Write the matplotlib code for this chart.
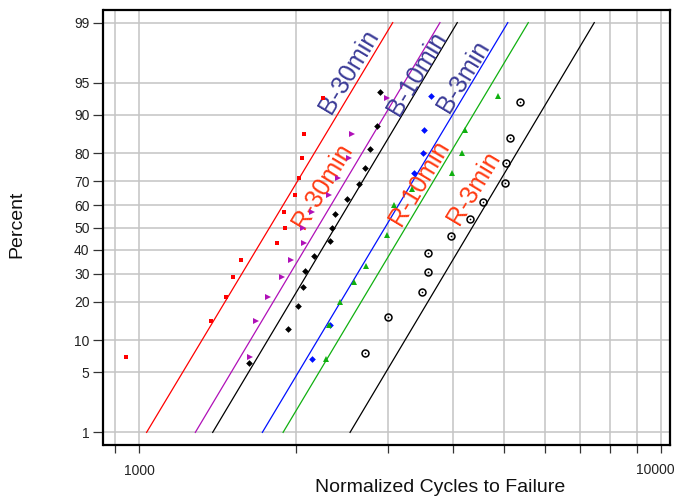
import math
from statistics import NormalDist

import numpy as np
import matplotlib
matplotlib.use("Agg")
import matplotlib.pyplot as plt
from matplotlib.ticker import FixedLocator, NullFormatter, FixedFormatter

plt.rcParams["font.family"] = ["Liberation Sans", "DejaVu Sans"]

# ---- data: normalized cycles to failure and plotting positions (percent) ----
b30_cycles = [945, 1372, 1468, 1516, 1570, 1840, 1901, 1898, 1990, 2023, 2055, 2073, 2255]
b30_pct = [7.1, 14.3, 21.4, 28.6, 35.7, 42.9, 50.0, 57.1, 64.3, 71.4, 78.6, 85.7, 92.9]

r30_cycles = [1634, 1673, 1764, 1876, 1955, 2068, 2059, 2145, 2307, 2403, 2522, 2562, 2982]
r30_pct = [7.1, 14.3, 21.4, 28.6, 35.7, 42.9, 50.0, 57.1, 64.3, 71.4, 78.6, 85.7, 92.9]

b10_cycles = [1621, 1932, 2014, 2064, 2077, 2166, 2327, 2346, 2374, 2503, 2641, 2710,
              2776, 2860, 2895]
b10_pct = [6.25, 12.5, 18.75, 25.0, 31.25, 37.5, 43.75, 50.0, 56.25, 62.5, 68.75, 75.0,
           81.25, 87.5, 93.75]

b3_cycles = [2148, 2322, 3367, 3493, 3511, 3621]
b3_pct = [6.7, 13.3, 73.3, 80.0, 86.7, 93.3]

r10_cycles = [2279, 2307, 2427, 2582, 2725, 2982, 3075, 3339, 3978, 4157, 4218, 4866]
r10_pct = [6.7, 13.3, 20.0, 26.7, 33.3, 46.7, 60.0, 66.7, 73.3, 80.0, 86.7, 93.3]

r3_cycles = [2706, 3003, 3490, 3578, 3585, 3960, 4312, 4554, 5018, 5047, 5137, 5362]
r3_pct = [7.7, 15.4, 23.1, 30.8, 38.5, 46.2, 53.8, 61.5, 69.2, 76.9, 84.6, 92.3]

# fitted lognormal lines: cycles at the 1 % and 99 % points
fit_pct = [1, 99]
b30_fit = [1034, 3062]
r30_fit = [1282, 3772]
b10_fit = [1384, 4071]
b3_fit = [1723, 5087]
r10_fit = [1888, 5569]
r3_fit = [2537, 7450]

y_ticks = [1, 5, 10, 20, 30, 40, 50, 60, 70, 80, 90, 95, 99]
x_major = [1000, 10000]
x_minor = [900, 2000, 3000, 4000, 5000, 6000, 7000, 8000, 9000]

# series labels: text, cycles, percent, colour
labels = [
    ("B-30min", 2526, 96.2, "#3b3b97"),
    ("B-10min", 3409, 96.0, "#3b3b97"),
    ("B-3min", 4176, 95.7, "#3b3b97"),
    ("R-30min", 2247, 68.1, "#ff3a12"),
    ("R-10min", 3439, 69.3, "#ff3a12"),
    ("R-3min", 4377, 67.5, "#ff3a12"),
]

# ---- normal-probability scale for the percent axis ----
_nd = NormalDist()
_ppf = np.vectorize(_nd.inv_cdf, otypes=[float])
_erf = np.vectorize(math.erf, otypes=[float])


def pct_forward(p):
    p = np.clip(np.asarray(p, dtype=float) / 100.0, 1e-9, 1 - 1e-9)
    return _ppf(p)


def pct_inverse(z):
    z = np.asarray(z, dtype=float)
    return 100.0 * 0.5 * (1.0 + _erf(z / math.sqrt(2.0)))


fig = plt.figure(figsize=(6.78, 4.98), dpi=100)
ax = fig.add_axes([103.5 / 678, 1 - 445 / 498, (670 - 103.5) / 678, (445 - 10) / 498])
ax.set_xscale("log")
ax.set_yscale("function", functions=(pct_forward, pct_inverse))
ax.set_xlim(855, 10405)
ax.set_ylim(0.676, 99.324)

# fitted lines
line_kw = dict(lw=0.9, zorder=2)
ax.plot(b30_fit, fit_pct, color="#ff0000", **line_kw)
ax.plot(r30_fit, fit_pct, color="#b010b8", **line_kw)
ax.plot(b10_fit, fit_pct, color="#000000", **line_kw)
ax.plot(b3_fit, fit_pct, color="#0010ff", **line_kw)
ax.plot(r10_fit, fit_pct, color="#10b010", **line_kw)
ax.plot(r3_fit, fit_pct, color="#000000", **line_kw)

# data points
ax.plot(b30_cycles, b30_pct, ls="none", marker="s", ms=3.2, color="#ff0000", mew=0, zorder=4)
ax.plot(r30_cycles, r30_pct, ls="none", marker=">", ms=4.4, color="#b010b8", mew=0, zorder=4)
ax.plot(b10_cycles, b10_pct, ls="none", marker="D", ms=3.4, color="#000000", mew=0, zorder=4)
ax.plot(b3_cycles, b3_pct, ls="none", marker="D", ms=3.4, color="#0010ff", mew=0, zorder=4)
ax.plot(r10_cycles, r10_pct, ls="none", marker="^", ms=4.4, color="#10b010", mew=0, zorder=4)
ax.plot(r3_cycles, r3_pct, ls="none", marker="o", ms=5, mfc="none", mec="#000000",
        mew=1.1, zorder=4)
ax.plot(r3_cycles, r3_pct, ls="none", marker="o", ms=1.2, color="#000000", mew=0, zorder=4)

# series names along the lines
for text, cx, cy, col in labels:
    ax.text(cx, cy, text, color=col, fontsize=18, rotation=59,
            ha="center", va="center", zorder=3)

# axes styling
ax.yaxis.set_major_locator(FixedLocator(y_ticks))
ax.yaxis.set_major_formatter(FixedFormatter([str(v) for v in y_ticks]))
ax.yaxis.set_minor_locator(FixedLocator([]))
ax.xaxis.set_major_locator(FixedLocator(x_major))
# the right-hand decade label is drawn separately so it stays inside the figure
ax.xaxis.set_major_formatter(FixedFormatter([str(x_major[0]), ""]))
ax.xaxis.set_minor_locator(FixedLocator(x_minor))
ax.xaxis.set_minor_formatter(NullFormatter())
ax.annotate(str(x_major[1]), xy=(x_major[1], 0), xycoords=("data", "axes fraction"),
            xytext=(-4, -18), textcoords="offset points", ha="center", va="center",
            fontsize=10, color="#222222")

ax.grid(True, which="major", color="#c4c4c4", lw=1.1, zorder=0)
ax.grid(True, which="minor", axis="x", color="#c4c4c4", lw=1.1, zorder=0)
ax.set_axisbelow(True)

ax.tick_params(axis="y", which="major", direction="out", length=7, width=0.9,
               color="#333333", labelsize=10, labelcolor="#222222", pad=3)
ax.tick_params(axis="x", which="both", direction="out", length=5.5, width=0.9,
               color="#333333", labelsize=10, labelcolor="#222222", pad=8)
for sp in ax.spines.values():
    sp.set_linewidth(1.6)
    sp.set_color("#000000")

fig.text(17 / 678, 1 - 224.5 / 498, "Percent", rotation=90, fontsize=14,
         ha="center", va="center", color="#111111")
fig.text(440 / 678, 1 - 487 / 498, "Normalized Cycles to Failure", fontsize=14,
         ha="center", va="center", color="#111111")

fig.savefig("out.png", dpi=100)
